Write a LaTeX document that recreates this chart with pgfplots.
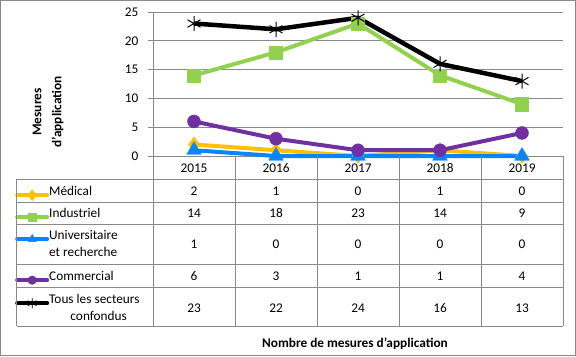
\documentclass[border=0pt]{standalone}
\usepackage{pgfplots}
\pgfplotsset{compat=1.18}
\usepackage{fontspec}
\setmainfont{Carlito}
\definecolor{med}{HTML}{FFC000}
\definecolor{ind}{HTML}{92D050}
\definecolor{uni}{HTML}{0A84FF}
\definecolor{com}{HTML}{7030A0}
\definecolor{gridc}{HTML}{898989}
\newcommand\rs[2]{\rule[-#2bp]{0pt}{\dimexpr #1bp+#2bp\relax}}
\begin{document}
\begin{tikzpicture}[x=1bp,y=1bp]
\fontsize{13.3bp}{17.5bp}\selectfont
\begin{axis}[
  scale only axis, width=410bp, height=144bp,
  xmin=-0.5, xmax=4.5, ymin=0, ymax=25,
  ytick={0,5,...,25}, xtick=\empty,
  axis lines*=left,
  axis line style={gridc, line width=1bp},
  ymajorgrids, grid style={gridc, line width=1bp},
  tick align=outside, major tick length=5bp,
  ytick style={gridc, line width=1bp},
  yticklabel style={font=\fontsize{13.3bp}{16bp}\selectfont, xshift=-5bp},
  /pgf/number format/assume math mode=true,
  clip=false,
  every axis plot/.append style={line width=4bp, line join=round},
  legend image code/.code={\draw[#1, mark repeat=2, mark phase=2, line cap=round] plot coordinates {(0bp,0bp) (15bp,0bp) (30bp,0bp)};},
  legend style={draw=none, fill=none, inner sep=0pt, row sep=0pt, column sep=0pt,
    at={(axis description cs:-0.3366,-0.1944)}, anchor=north west,
    cells={anchor=base west},
    nodes={inner sep=0pt, text depth=, font=\fontsize{13.3bp}{17.5bp}\selectfont}},
]
\coordinate (A) at (axis cs:-0.5,0);
\addplot[forget plot, med, mark=diamond*, mark size=7.5bp, mark options={solid, line width=0.4bp}] coordinates {(0,2)(1,1)(2,0)(3,1)(4,0)};
\addplot[forget plot, ind, mark=square*, mark size=6.6bp, mark options={solid, line width=0.4bp}] coordinates {(0,14)(1,18)(2,23)(3,14)(4,9)};
\addplot[forget plot, uni, mark=triangle*, mark size=8.5bp, mark options={solid, line width=0.4bp}] coordinates {(0,1)(1,0)(2,0)(3,0)(4,0)};
\addplot[forget plot, com, mark=*, mark size=6.5bp, mark options={solid, line width=0.4bp}] coordinates {(0,6)(1,3)(2,1)(3,1)(4,4)};
\addplot[forget plot, black, line width=4.5bp, mark=asterisk, mark size=7.5bp, mark options={solid, line width=1bp}] coordinates {(0,23)(1,22)(2,24)(3,16)(4,13)};
\addlegendimage{med, line width=4bp, mark=diamond*, mark size=5.5bp, mark options={solid, line width=0.4bp}}
\addlegendentry{\rs{11}{11}Médical}
\addlegendimage{ind, line width=4bp, mark=square*, mark size=4bp, mark options={solid, line width=0.4bp}}
\addlegendentry{\rs{11}{11}Industriel}
\addlegendimage{uni, line width=4bp, mark=triangle*, mark size=4.8bp, mark options={solid, line width=0.4bp}}
\addlegendentry{\rs{11}{30}\vtop{\baselineskip=17.5bp\hbox{Universitaire}\hbox{et recherche}}}
\addlegendimage{com, line width=4bp, mark=*, mark size=4.3bp, mark options={solid, line width=0.4bp}}
\addlegendentry{\rs{11}{12}Commercial}
\addlegendimage{black, line width=4bp, mark=asterisk, mark size=4.8bp, mark options={solid, line width=0.8bp}}
\addlegendentry{\rs{11}{10}\vtop{\baselineskip=17.5bp\hbox{Tous les secteurs}\hbox{\hspace{1.6em}confondus}}}
\end{axis}
\begin{scope}[shift={(A)}, xshift=-153bp, yshift=156bp]
\pgfresetboundingbox
\path[use as bounding box] (0,0) rectangle (576,-356);
\draw[gridc, line width=1bp] (0.5,-0.5) rectangle (575.5,-355.5);
\begin{scope}[gridc, line width=1bp]
\draw (153,-12) -- (153,-326);
\foreach \x in {235,317,399,481,563} \draw (\x,-156) -- (\x,-326);
\draw (17,-179) -- (17,-326);
\foreach \y in {179,202,224,264,287,326} \draw (17,-\y) -- (563,-\y);
\end{scope}
\foreach \x/\t in {194/2015,276/2016,358/2017,440/2018,522/2019}
  \node[anchor=base, inner sep=0pt] at (\x,-172) {\t};
\foreach \x/\a/\b/\c/\d/\e in {194/2/14/1/6/23, 276/1/18/0/3/22, 358/0/23/0/1/24, 440/1/14/0/1/16, 522/0/9/0/4/13} {
  \node[anchor=base, inner sep=0pt] at (\x,-195) {\a};
  \node[anchor=base, inner sep=0pt] at (\x,-217) {\b};
  \node[anchor=base, inner sep=0pt] at (\x,-248) {\c};
  \node[anchor=base, inner sep=0pt] at (\x,-280) {\d};
  \node[anchor=base, inner sep=0pt] at (\x,-312) {\e};
}
\node[rotate=90, align=center, font=\bfseries\fontsize{13.3bp}{20bp}\selectfont] at (48,-112) {Mesures\\d’application};
\node[anchor=base, inner sep=0pt, font=\bfseries] at (355,-347) {Nombre de mesures d’application};
\end{scope}
\end{tikzpicture}
\end{document}
